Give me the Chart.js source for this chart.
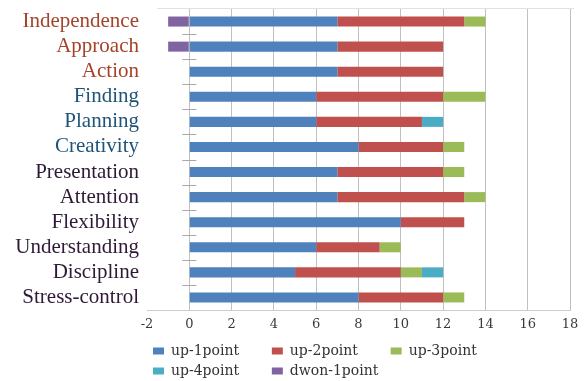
<!DOCTYPE html>
<html>
<head>
<meta charset="utf-8">
<script src="https://cdn.jsdelivr.net/npm/chart.js@4/dist/chart.umd.min.js"></script>
<style>
  html, body { margin: 0; padding: 0; background: #fff; overflow: hidden; }
  #wrap { position: relative; width: 587px; height: 388px; }
</style>
</head>
<body>
<div id="wrap"><canvas id="c"></canvas></div>
<script>
// Skills and how many people moved by each amount
const categories = ['Independence', 'Approach', 'Action', 'Finding', 'Planning', 'Creativity',
  'Presentation', 'Attention', 'Flexibility', 'Understanding', 'Discipline', 'Stress-control'];
const up1Point   = [7, 7, 7, 6, 6, 8, 7, 7, 10, 6, 5, 8];
const up2Point   = [6, 5, 5, 6, 5, 4, 5, 6, 3, 3, 5, 4];
const up3Point   = [1, null, null, 2, null, 1, 1, 1, null, 1, 1, 1];
const up4Point   = [null, null, null, null, 1, null, null, null, null, null, 1, null];
const down1Point = [-1, -1, null, null, null, null, null, null, null, null, null, null];
const seriesNames = ['up-1point', 'up-2point', 'up-3point', 'up-4point', 'dwon-1point'];
const xTickValues = [-2, 0, 2, 4, 6, 8, 10, 12, 14, 16, 18];

// Styling
const seriesColors = ['#4F81BD', '#C0504D', '#9BBB59', '#4BACC6', '#8064A2'];
const labelColors = ['#A4432A', '#A4432A', '#A4432A', '#1E5478', '#1E5478', '#1E5478',
  '#2E1A36', '#2E1A36', '#2E1A36', '#2E1A36', '#2E1A36', '#2E1A36'];
const legendFont = { family: 'DejaVu Serif', size: 14 };
const legendItemPitch = 120;

const seriesValues = [up1Point, up2Point, up3Point, up4Point, down1Point];

// Short marks on the value-0 line between categories, plus top frame line
const axisMarks = {
  id: 'axisMarks',
  afterDraw(chart) {
    const { ctx, chartArea, scales } = chart;
    const x0 = scales.x.getPixelForValue(0);
    const y = scales.y;
    ctx.save();
    ctx.strokeStyle = '#e2e2e2';
    ctx.lineWidth = 1;
    ctx.beginPath();
    ctx.moveTo(chartArea.left + 10, chartArea.top - 0.5);
    ctx.lineTo(chartArea.right + 4, chartArea.top - 0.5);
    ctx.stroke();
    ctx.strokeStyle = '#a8a8a8';
    ctx.beginPath();
    for (let i = 0; i < categories.length - 1; i++) {
      const yy = Math.round((y.getPixelForValue(i) + y.getPixelForValue(i + 1)) / 2) + 0.5;
      ctx.moveTo(x0 - 7, yy);
      ctx.lineTo(x0 + 7, yy);
    }
    ctx.stroke();
    ctx.restore();
  }
};

new Chart(document.getElementById('c'), {
  type: 'bar',
  data: {
    labels: categories,
    datasets: seriesNames.map((name, i) => ({
      label: name,
      data: seriesValues[i],
      backgroundColor: seriesColors[i],
      borderWidth: 0,
      barPercentage: 0.4,
      categoryPercentage: 1
    }))
  },
  options: {
    indexAxis: 'y',
    responsive: true,
    maintainAspectRatio: false,
    animation: false,
    devicePixelRatio: 1,
    layout: { padding: { top: 9, right: 17, left: 0, bottom: 0 } },
    scales: {
      x: {
        stacked: true,
        min: -2,
        max: 18,
        afterBuildTicks(scale) { scale.ticks = xTickValues.map(v => ({ value: v })); },
        afterFit(scale) { scale.height = 28; },
        grid: {
          drawTicks: false,
          color: ctx => (ctx.tick && ctx.tick.value === -2) ? 'rgba(0,0,0,0)' : '#c0c0c0'
        },
        border: { display: true, color: '#cccccc' },
        ticks: {
          padding: 7,
          color: '#3a3a3a',
          font: { family: 'DejaVu Serif', size: 13 }
        }
      },
      y: {
        stacked: true,
        afterFit(scale) {
          scale.width = 147;
          scale.paddingTop = 0;
          scale.paddingBottom = 0;
        },
        grid: { display: false, drawTicks: false },
        border: { display: false },
        ticks: {
          autoSkip: false,
          padding: 8,
          color: ctx => labelColors[ctx.index],
          font: { family: 'Liberation Serif', size: 21 }
        }
      }
    },
    plugins: {
      tooltip: { enabled: false },
      legend: {
        position: 'bottom',
        align: 'start',
        fullSize: false,
        labels: {
          boxWidth: 11,
          boxHeight: 7,
          padding: 6,
          color: '#333333',
          font: legendFont,
          generateLabels(chart) {
            const items = Chart.defaults.plugins.legend.labels.generateLabels(chart);
            const ctx = chart.ctx;
            ctx.save();
            ctx.font = legendFont.size + 'px "' + legendFont.family + '"';
            const target = legendItemPitch - 11 - legendFont.size / 2 - 6;
            items.forEach(it => {
              let t = it.text;
              while (ctx.measureText(t + '\u00a0').width <= target) t += '\u00a0';
              it.text = t;
            });
            ctx.restore();
            return items;
          }
        }
      }
    }
  },
  plugins: [axisMarks]
});
</script>
</body>
</html>
